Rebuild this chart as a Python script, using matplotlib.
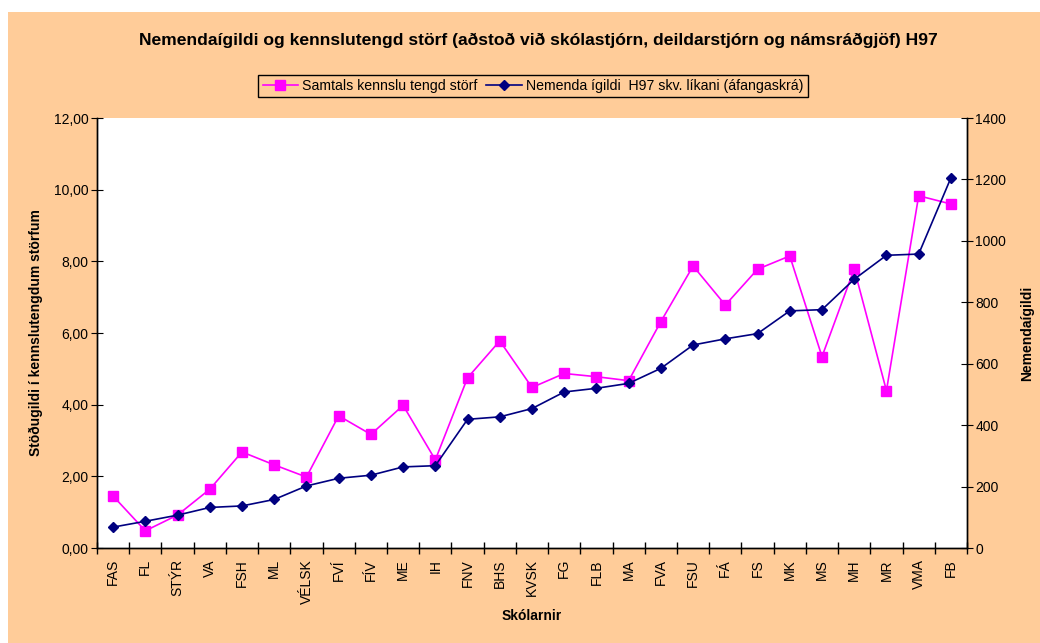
import matplotlib
matplotlib.use("Agg")
import matplotlib.pyplot as plt
from matplotlib.patches import Rectangle
from matplotlib.ticker import FixedLocator, FuncFormatter

plt.rcParams["font.family"] = ["Liberation Sans", "DejaVu Sans"]

schools = ["FAS", "FL", "STÝR", "VA", "FSH", "ML", "VÉLSK", "FVÍ", "FÍV", "ME", "IH",
           "FNV", "BHS", "KVSK", "FG", "FLB", "MA", "FVA", "FSU", "FÁ", "FS", "MK",
           "MS", "MH", "MR", "VMA", "FB"]
# Samtals kennslu tengd störf (left axis)
storf = [1.45, 0.48, 0.92, 1.64, 2.68, 2.32, 1.98, 3.69, 3.17, 3.98, 2.46,
         4.75, 5.78, 4.48, 4.87, 4.78, 4.67, 6.32, 7.87, 6.78, 7.78, 8.15,
         5.34, 7.79, 4.39, 9.83, 9.60]
# Nemenda ígildi H97 (right axis)
igildi = [68, 87, 107, 132, 137, 158, 202, 227, 237, 264, 268,
          419, 427, 454, 508, 520, 536, 585, 661, 681, 698, 772,
          776, 875, 953, 957, 1205]

peach = "#FFCC99"
magenta = "#FF00FF"
navy = "#000080"

fig = plt.figure(figsize=(10.4, 6.43), dpi=100)
fig.patch.set_facecolor("white")
# peach chart area, leaving a thin white margin top and left
fig.patches.append(Rectangle((8 / 1040, 0), 1 - 8 / 1040, 1 - 12 / 643,
                             transform=fig.transFigure, facecolor=peach,
                             edgecolor="none", zorder=-10))

ax = fig.add_axes([97 / 1040, 1 - 548 / 643, 870 / 1040, 430 / 643])
ax2 = ax.twinx()
ax.set_zorder(ax2.get_zorder() - 1)
ax2.patch.set_visible(False)
ax.set_facecolor("white")

x = list(range(len(schools)))
line_storf, = ax.plot(x, storf, color=magenta, lw=1.2, marker="s", ms=7,
                      markerfacecolor=magenta, markeredgecolor=magenta,
                      label="Samtals kennslu tengd störf")
line_ig, = ax2.plot(x, igildi, color=navy, lw=1.2, marker="D", ms=5,
                    markerfacecolor=navy, markeredgecolor=navy,
                    label="Nemenda ígildi  H97 skv. líkani (áfangaskrá)")

ax.set_xlim(-0.5, len(schools) - 0.5)
ax.set_ylim(0, 12)
ax2.set_ylim(0, 1400)
ax.set_yticks([0, 2, 4, 6, 8, 10, 12])
ax.yaxis.set_major_formatter(FuncFormatter(lambda v, p: f"{v:.2f}".replace(".", ",")))
ax2.set_yticks(range(0, 1401, 200))

# labels at category centres, tick marks between categories
ax.set_xticks(x)
ax.set_xticklabels(schools, rotation=90, fontsize=10)
ax.xaxis.set_minor_locator(FixedLocator([i + 0.5 for i in range(-1, len(schools))]))
ax.tick_params(axis="x", which="major", length=0, pad=8)
ax.tick_params(axis="x", which="minor", length=8, direction="inout", width=1)
ax.tick_params(axis="y", length=8, direction="inout", labelsize=10, pad=2)
ax2.tick_params(axis="y", length=8, direction="inout", labelsize=10, pad=2)

for a in (ax, ax2):
    a.spines["top"].set_visible(False)
    for s in ("left", "right", "bottom"):
        a.spines[s].set_linewidth(1)
        a.spines[s].set_color("black")

ax.set_xlabel("Skólarnir", fontsize=10, fontweight="bold", labelpad=4)
ax.set_ylabel("Stöðugildi í kennslutengdum störfum", fontsize=10, fontweight="bold", labelpad=8)
ax2.set_ylabel("Nemendaígildi", fontsize=10, fontweight="bold", labelpad=10)

fig.text(538 / 1040, 1 - 40 / 643, "Nemendaígildi og kennslutengd störf (aðstoð við skólastjórn, "
         "deildarstjórn og námsráðgjöf) H97", ha="center", va="center",
         fontsize=12.6, fontweight="bold")

leg = fig.legend([line_storf, line_ig], [line_storf.get_label(), line_ig.get_label()],
                 loc="center", bbox_to_anchor=(533 / 1040, 1 - 86 / 643), ncol=2,
                 fontsize=10.2, frameon=True, fancybox=False, facecolor=peach,
                 edgecolor="black", framealpha=1, handlelength=2.5,
                 columnspacing=0.6, handletextpad=0.3, borderpad=0.3)
leg.get_frame().set_linewidth(1)

fig.savefig("out.png", dpi=100, facecolor=fig.get_facecolor())
